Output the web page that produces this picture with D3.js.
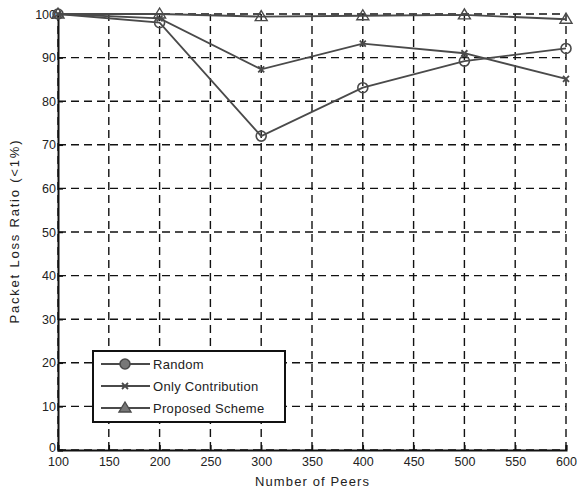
<!DOCTYPE html>
<html>
<head>
<meta charset="utf-8">
<script src="https://cdn.jsdelivr.net/npm/d3@7"></script>
<style>
  body { margin: 0; background: #fff; }
  text { font-family: "Liberation Sans", Arial, sans-serif; fill: #222; }
</style>
</head>
<body>
<svg width="577" height="491"></svg>
<script>
// data
var peers = [100, 200, 300, 400, 500, 600];
var randomVals = [100, 98, 72, 83.1, 89.2, 92.1];
var contribVals = [100, 99, 87.3, 93.2, 91, 85.1];
var proposedVals = [100, 100, 99.4, 99.6, 99.8, 98.8];
var seriesNames = ["Random", "Only Contribution", "Proposed Scheme"];
var xTicks = [100, 150, 200, 250, 300, 350, 400, 450, 500, 550, 600];
var yTicks = [0, 10, 20, 30, 40, 50, 60, 70, 80, 90, 100];

var svg = d3.select("svg");
var margin = {top: 14, right: 11, bottom: 41, left: 58};
var W = 577, H = 491;

var x = d3.scaleLinear().domain([100, 600]).range([margin.left, W - margin.right]);
var y = d3.scaleLinear().domain([0, 100]).range([H - margin.bottom, margin.top]);

var lineColor = "#4a4a4a";

// grid
var grid = svg.append("g");
grid.selectAll(".gx").data(xTicks).enter().append("line")
  .attr("x1", d => x(d)).attr("x2", d => x(d))
  .attr("y1", y(0)).attr("y2", y(100))
  .attr("stroke", "#111").attr("stroke-width", 1.4)
  .attr("stroke-dasharray", "8,5");
grid.selectAll(".gy").data(yTicks).enter().append("line")
  .attr("x1", x(100)).attr("x2", x(600))
  .attr("y1", d => y(d)).attr("y2", d => y(d))
  .attr("stroke", "#111").attr("stroke-width", 1.4)
  .attr("stroke-dasharray", "8,5");

// axes
var xAxis = d3.axisBottom(x).tickValues(xTicks).tickSize(-5).tickPadding(7);
var yAxis = d3.axisLeft(y).tickValues(yTicks).tickSize(-5).tickPadding(2);

var gx = svg.append("g").attr("transform", "translate(0," + y(0) + ")").call(xAxis);
var gy = svg.append("g").attr("transform", "translate(" + x(100) + ",0)").call(yAxis);
[gx, gy].forEach(function(g) {
  g.select(".domain").attr("stroke", "#111").attr("stroke-width", 2);
  g.selectAll(".tick line").attr("stroke", "#111").attr("stroke-width", 1.5);
  g.selectAll(".tick text").style("font-size", "12.5px").attr("fill", "#222")
    .style("font-family", "'Liberation Sans', Arial, sans-serif");
});
gy.selectAll(".tick").filter(d => d === 0).select("text").attr("dy", "0.1em");

// axis labels
svg.append("text").attr("x", x(350)).attr("y", 486)
  .attr("text-anchor", "middle").style("font-size", "13px")
  .attr("textLength", 114).attr("lengthAdjust", "spacing").text("Number of Peers");
svg.append("text").attr("transform", "translate(19," + y(50) + ") rotate(-90)")
  .attr("text-anchor", "middle").style("font-size", "13px")
  .attr("textLength", 183).attr("lengthAdjust", "spacing").text("Packet Loss Ratio (<1%)");

// lines
var line = d3.line().x((d, i) => x(peers[i])).y(d => y(d));
var allSeries = [randomVals, contribVals, proposedVals];
var markers = ["circle", "x", "tri"];

function drawMarker(g, type, cx, cy, fill) {
  if (type === "circle") {
    g.append("circle").attr("cx", cx).attr("cy", cy).attr("r", 5)
      .attr("fill", fill || "none").attr("stroke", lineColor).attr("stroke-width", 1.6);
  } else if (type === "x") {
    g.append("path").attr("d", "M" + (cx - 3) + "," + (cy - 3) + "L" + (cx + 3) + "," + (cy + 3) +
      "M" + (cx - 3) + "," + (cy + 3) + "L" + (cx + 3) + "," + (cy - 3))
      .attr("stroke", lineColor).attr("stroke-width", 1.8);
  } else {
    g.append("path").attr("d", "M" + cx + "," + (cy - 6) + "L" + (cx + 6) + "," + (cy + 4) +
      "L" + (cx - 6) + "," + (cy + 4) + "Z")
      .attr("fill", fill || "none").attr("stroke", lineColor).attr("stroke-width", 1.4);
  }
}

allSeries.forEach(function(vals, k) {
  var g = svg.append("g");
  g.append("path").datum(vals).attr("d", line)
    .attr("fill", "none").attr("stroke", lineColor).attr("stroke-width", 1.8);
  vals.forEach(function(v, i) { drawMarker(g, markers[k], x(peers[i]), y(v)); });
});

// legend
var lg = svg.append("g");
lg.append("rect").attr("x", 93).attr("y", 351).attr("width", 192).attr("height", 71)
  .attr("fill", "#fff").attr("stroke", "#111").attr("stroke-width", 2);
seriesNames.forEach(function(name, k) {
  var ly = 364 + k * 22;
  lg.append("line").attr("x1", 101).attr("x2", 150).attr("y1", ly).attr("y2", ly)
    .attr("stroke", lineColor).attr("stroke-width", 1.8);
  drawMarker(lg, markers[k], 125, ly, "#777");
  lg.append("text").attr("x", 153).attr("y", ly).attr("dy", "0.36em")
    .style("font-size", "13px").style("letter-spacing", "0.3px").text(name);
});
</script>
</body>
</html>
